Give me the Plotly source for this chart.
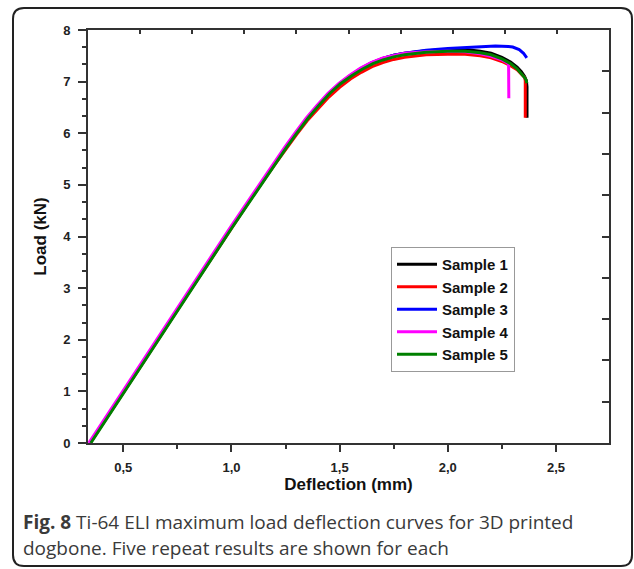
import plotly.graph_objects as go

# ---------------- data ----------------
s1_x = [0.346, 0.45, 0.60, 0.80, 1.00, 1.10, 1.20, 1.25, 1.30, 1.35, 1.40, 1.45, 1.50, 1.55, 1.60, 1.65, 1.70, 1.75, 1.80, 1.90, 2.00, 2.08, 2.15, 2.20, 2.25, 2.29, 2.32, 2.34, 2.355, 2.363, 2.366, 2.366]
s1_y = [0.0, 0.66, 1.62, 2.90, 4.18, 4.80, 5.41, 5.72, 6.01, 6.29, 6.54, 6.77, 6.96, 7.12, 7.26, 7.37, 7.45, 7.51, 7.55, 7.60, 7.62, 7.62, 7.59, 7.55, 7.47, 7.38, 7.28, 7.19, 7.10, 7.02, 6.90, 6.30]

s2_x = [0.347, 0.45, 0.60, 0.80, 1.00, 1.10, 1.20, 1.25, 1.30, 1.35, 1.40, 1.45, 1.50, 1.55, 1.60, 1.65, 1.70, 1.75, 1.80, 1.90, 2.00, 2.08, 2.15, 2.20, 2.25, 2.29, 2.32, 2.34, 2.355, 2.358, 2.358]
s2_y = [0.0, 0.65, 1.61, 2.89, 4.17, 4.79, 5.39, 5.69, 5.97, 6.24, 6.48, 6.70, 6.89, 7.05, 7.18, 7.29, 7.37, 7.43, 7.47, 7.52, 7.53, 7.53, 7.50, 7.46, 7.39, 7.31, 7.23, 7.15, 7.08, 7.02, 6.30]

s3_x = [0.346, 0.45, 0.60, 0.80, 1.00, 1.10, 1.20, 1.25, 1.30, 1.35, 1.40, 1.45, 1.50, 1.55, 1.60, 1.65, 1.70, 1.75, 1.80, 1.90, 2.00, 2.08, 2.15, 2.22, 2.28, 2.30, 2.33, 2.35, 2.365]
s3_y = [0.0, 0.66, 1.62, 2.90, 4.18, 4.80, 5.41, 5.72, 6.01, 6.29, 6.54, 6.77, 6.96, 7.12, 7.26, 7.37, 7.45, 7.51, 7.55, 7.61, 7.64, 7.66, 7.68, 7.69, 7.68, 7.67, 7.62, 7.55, 7.46]

s4_x = [0.341, 0.445, 0.595, 0.795, 0.995, 1.095, 1.195, 1.245, 1.295, 1.345, 1.395, 1.445, 1.495, 1.545, 1.595, 1.645, 1.70, 1.75, 1.80, 1.90, 2.00, 2.08, 2.15, 2.20, 2.25, 2.278, 2.281, 2.282]
s4_y = [0.0, 0.66, 1.62, 2.90, 4.18, 4.80, 5.41, 5.72, 6.01, 6.29, 6.54, 6.77, 6.96, 7.12, 7.26, 7.37, 7.46, 7.51, 7.55, 7.58, 7.59, 7.58, 7.54, 7.49, 7.42, 7.36, 7.30, 6.68]

s5_x = [0.350, 0.454, 0.604, 0.804, 1.004, 1.104, 1.204, 1.254, 1.304, 1.354, 1.404, 1.454, 1.504, 1.554, 1.604, 1.654, 1.70, 1.75, 1.80, 1.90, 2.00, 2.08, 2.15, 2.20, 2.25, 2.29, 2.32, 2.34, 2.355, 2.363, 2.365]
s5_y = [0.0, 0.66, 1.62, 2.90, 4.18, 4.80, 5.41, 5.72, 6.01, 6.29, 6.54, 6.77, 6.96, 7.11, 7.24, 7.35, 7.42, 7.48, 7.52, 7.57, 7.59, 7.59, 7.56, 7.52, 7.44, 7.35, 7.25, 7.16, 7.08, 7.02, 6.97]

names = ["Sample 1", "Sample 2", "Sample 3", "Sample 4", "Sample 5"]
colors = ["#000000", "#ff0000", "#0000ff", "#ff00ff", "#008000"]
series_x = [s1_x, s2_x, s3_x, s4_x, s5_x]
series_y = [s1_y, s2_y, s3_y, s4_y, s5_y]

x_ticks = [0.5, 1.0, 1.5, 2.0, 2.5]
y_ticks = [0, 1, 2, 3, 4, 5, 6, 7, 8]

caption_bold = "Fig. 8"
caption_line1 = " Ti-64 ELI maximum load deflection curves for 3D printed"
caption_line2 = "dogbone. Five repeat results are shown for each"

# ---------------- layout geometry ----------------
W, H = 634, 569
L, R, T, B = 88, 609, 30, 443


def fx(px):
    return (px - L) / (R - L)


def fy(py):
    return (B - py) / (B - T)


fig = go.Figure()
for xs, ys, n, c in zip(series_x, series_y, names, colors):
    fig.add_trace(go.Scatter(x=xs, y=ys, mode="lines", name=n,
                             line=dict(color=c, width=3), hoverinfo="skip"))

# dummy trace for the secondary (top/right) tick frame
fig.add_trace(go.Scatter(x=[None], y=[None], xaxis="x2", yaxis="y2",
                         showlegend=False, hoverinfo="skip"))

axis_col = "#333333"
FAM = "Liberation Sans"
tickfont = dict(family=FAM, size=13, color="#222222", weight="bold")
titlefont = dict(family=FAM, size=17, color="#111111", weight="bold")

fig.update_layout(
    width=W, height=H,
    margin=dict(l=L, r=W - R, t=T, b=H - B),
    paper_bgcolor="white", plot_bgcolor="white",
    separators=", ",
    showlegend=True,
    legend=dict(x=fx(391), y=fy(247), xanchor="left", yanchor="top",
                bgcolor="white", bordercolor="#999999", borderwidth=1,
                font=dict(family=FAM, size=15, color="#111111", weight="bold"),
                itemwidth=40, tracegroupgap=0),
    xaxis=dict(range=[0.337, 2.745], tickmode="array", tickvals=x_ticks,
               tickformat=".1f", ticks="outside", ticklen=7, tickwidth=1.5,
               tickcolor=axis_col, ticklabelstandoff=4,
               minor=dict(dtick=0.25, tick0=0, ticks="outside", ticklen=4,
                          tickwidth=1.5, tickcolor=axis_col),
               showline=True, linecolor=axis_col, linewidth=2,
               showgrid=False, zeroline=False, tickfont=tickfont,
               title=dict(text="Deflection (mm)", standoff=5, font=titlefont)),
    yaxis=dict(range=[0, 8], tickmode="array", tickvals=y_ticks,
               ticks="outside", ticklen=8, tickwidth=1.5, tickcolor=axis_col,
               ticklabelstandoff=5,
               minor=dict(dtick=1 / 3, tick0=0, ticks="outside", ticklen=4,
                          tickwidth=1.5, tickcolor=axis_col),
               showline=True, linecolor=axis_col, linewidth=2,
               showgrid=False, zeroline=False, tickfont=tickfont,
               title=dict(text="Load (kN)", standoff=12, font=titlefont)),
    xaxis2=dict(overlaying="x", side="top", anchor="y2", range=[0, 10],
                dtick=1, ticks="inside", ticklen=4, tickwidth=1.5,
                tickcolor=axis_col, showticklabels=False, showline=True,
                linecolor=axis_col, linewidth=2, showgrid=False, zeroline=False),
    yaxis2=dict(overlaying="y", side="right", anchor="x2", range=[0, 10],
                dtick=1, ticks="inside", ticklen=7, tickwidth=1.5,
                tickcolor=axis_col, showticklabels=False, showline=True,
                linecolor=axis_col, linewidth=2, showgrid=False, zeroline=False),
)

# rounded outer frame
x0, x1, y0, y1 = 13, 632, 8, 566
r = 11
rx = r / (R - L)
ry = r / (B - T)
X0, X1, Y0, Y1 = fx(x0), fx(x1), fy(y0), fy(y1)
path = (f"M{X0 + rx},{Y0} L{X1 - rx},{Y0} Q{X1},{Y0} {X1},{Y0 - ry} "
        f"L{X1},{Y1 + ry} Q{X1},{Y1} {X1 - rx},{Y1} "
        f"L{X0 + rx},{Y1} Q{X0},{Y1} {X0},{Y1 + ry} "
        f"L{X0},{Y0 - ry} Q{X0},{Y0} {X0 + rx},{Y0} Z")
fig.add_shape(type="path", path=path, xref="paper", yref="paper",
              line=dict(color="#222222", width=2), layer="below")

capfont = dict(family="Open Sans", size=19, color="#3a3a3a")
fig.add_annotation(xref="paper", yref="paper", x=fx(21), y=fy(522),
                   xanchor="left", yanchor="middle", showarrow=False,
                   text=f"<b>{caption_bold}</b>{caption_line1}", font=capfont)
fig.add_annotation(xref="paper", yref="paper", x=fx(21), y=fy(548),
                   xanchor="left", yanchor="middle", showarrow=False,
                   text=caption_line2, font=capfont)

fig.write_html("out.html")
